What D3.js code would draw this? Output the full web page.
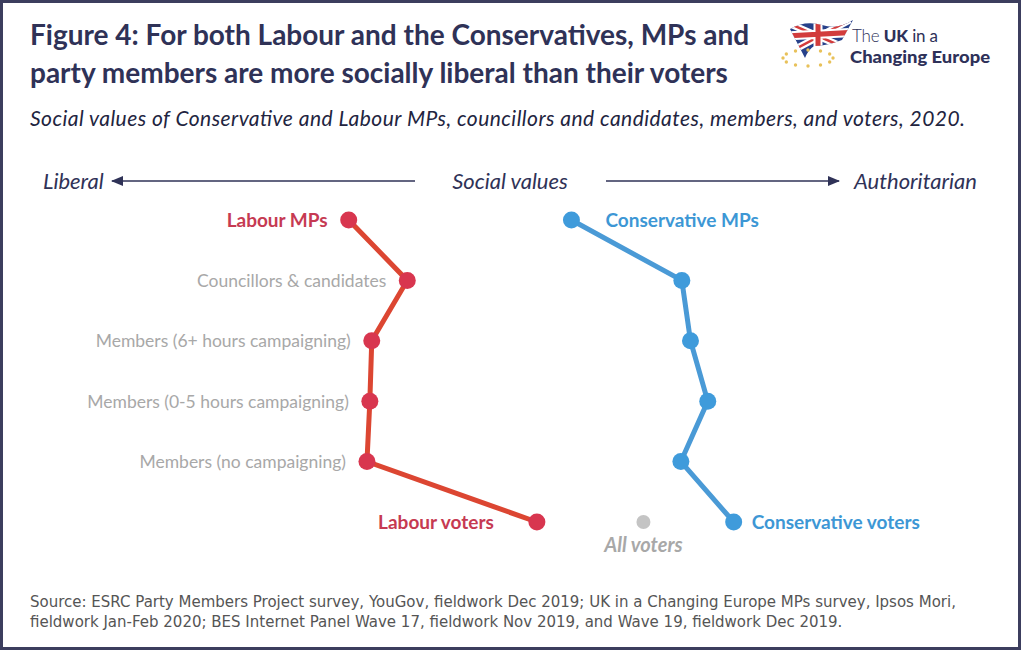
<!DOCTYPE html>
<html>
<head>
<meta charset="utf-8">
<script src="https://cdn.jsdelivr.net/npm/d3@7"></script>
<style>
  body { margin: 0; background: #fff; }
  svg { display: block; }
</style>
</head>
<body>
<div id="chart"></div>
<script>
// Categories down the chart (top to bottom)
var categories = ["MPs", "Councillors & candidates", "Members (6+ hours campaigning)",
  "Members (0-5 hours campaigning)", "Members (no campaigning)", "Voters"];

// Social values position (0 = liberal, 100 = authoritarian)
var labourValues = [33.2, 39.3, 35.6, 35.4, 35.1, 52.8];
var conservativeValues = [56.4, 67.9, 68.8, 70.6, 67.8, 73.3];
var allVotersValue = 63.9;

// Labels next to the points
var labourLabels = ["Labour MPs", "Councillors & candidates", "Members (6+ hours campaigning)",
  "Members (0-5 hours campaigning)", "Members (no campaigning)", "Labour voters"];
var conservativeLabels = ["Conservative MPs", "", "", "", "", "Conservative voters"];

var svgWidth = 1024;
var svgHeight = 652;

var navy = "#2f3257";
var labourDot = "#d8364f";
var labourLine = "#dc4632";
var labourText = "#c63a52";
var conDot = "#3f9bdb";
var conLine = "#4a9ad6";
var conText = "#3d97d5";
var grey = "#a8a8a8";

var svg = d3.select("#chart")
  .append("svg")
  .attr("width", svgWidth)
  .attr("height", svgHeight);

// Frame
svg.append("rect")
  .attr("x", 1.5).attr("y", 1.5)
  .attr("width", 1018).attr("height", 647)
  .attr("fill", "#fff")
  .attr("stroke", "#3c3e5e")
  .attr("stroke-width", 3);

// Title + subtitle
var titleFont = "Lato, 'Open Sans', sans-serif";
svg.append("text")
  .attr("x", 30).attr("y", 45)
  .attr("font-family", titleFont).attr("font-weight", "bold")
  .attr("font-size", 28).attr("fill", navy)
  .text("Figure 4: For both Labour and the Conservatives, MPs and");
svg.append("text")
  .attr("x", 30).attr("y", 83)
  .attr("font-family", titleFont).attr("font-weight", "bold")
  .attr("font-size", 28).attr("fill", navy)
  .text("party members are more socially liberal than their voters");
svg.append("text")
  .attr("x", 30).attr("y", 126)
  .attr("font-family", titleFont).attr("font-style", "italic")
  .attr("font-size", 21).attr("fill", "#222440")
  .attr("textLength", 935).attr("lengthAdjust", "spacing")
  .text("Social values of Conservative and Labour MPs, councillors and candidates, members, and voters, 2020.");

// Logo
var logo = svg.append("g").attr("class", "logo");
var defs = svg.append("defs");
defs.append("clipPath").attr("id", "flagClip")
  .append("path")
  .attr("d", "M790,29 Q805,20 822,25 Q838,30 853,20 L842,40 Q826,46 814,46 Q808,50 805,58 Z");
defs.append("marker")
  .attr("id", "arrowHead")
  .attr("viewBox", "0 0 12 10")
  .attr("refX", 11).attr("refY", 5)
  .attr("markerWidth", 12).attr("markerHeight", 10)
  .attr("markerUnits", "userSpaceOnUse")
  .attr("orient", "auto")
  .append("path")
  .attr("d", "M0,0 L12,5 L0,10 Z")
  .attr("fill", navy);

var flag = logo.append("g").attr("clip-path", "url(#flagClip)");
flag.append("rect").attr("x", 785).attr("y", 15).attr("width", 75).attr("height", 50).attr("fill", "#27418a");
flag.append("path").attr("d", "M790,24 L850,50 M790,52 L850,20").attr("stroke", "#fff").attr("stroke-width", 7);
flag.append("path").attr("d", "M790,24 L850,50 M790,52 L850,20").attr("stroke", "#d23c3c").attr("stroke-width", 2.5);
flag.append("path").attr("d", "M818,15 L818,65 M785,36 L860,32").attr("stroke", "#fff").attr("stroke-width", 9);
flag.append("path").attr("d", "M818,15 L818,65 M785,36 L860,32").attr("stroke", "#d23c3c").attr("stroke-width", 5);

var starAngles = d3.range(12).map(function(i) { return i * Math.PI / 6; });
logo.selectAll(".star")
  .data(starAngles)
  .enter()
  .append("circle")
  .attr("class", "star")
  .attr("cx", function(a) { return 808 + 25 * Math.cos(a); })
  .attr("cy", function(a) { return 58 + 8 * Math.sin(a); })
  .attr("r", 1.7)
  .attr("fill", "#e8c15a");

// "The UK in a" / "Changing Europe"
var logoText1 = logo.append("text")
  .attr("x", 852).attr("y", 42)
  .attr("font-family", "Lato, sans-serif")
  .attr("font-size", 17).attr("fill", "#2e3159")
  .attr("textLength", 86).attr("lengthAdjust", "spacing");
logoText1.append("tspan").attr("font-weight", 300).text("The ");
logoText1.append("tspan").attr("font-weight", 900).text("UK");
logoText1.append("tspan").attr("font-weight", 400).text(" in a");
logo.append("text")
  .attr("x", 850).attr("y", 63)
  .attr("font-family", "Lato, sans-serif")
  .attr("font-weight", 900)
  .attr("font-size", 17.5).attr("fill", "#2e3159")
  .attr("textLength", 140).attr("lengthAdjust", "spacingAndGlyphs")
  .text("Changing Europe");

// Scales
var xScale = d3.scaleLinear()
  .domain([0, 100])
  .range([30, 990]);

var yScale = d3.scalePoint()
  .domain(categories)
  .range([220, 522]);

// Axis direction header
var axisY = 181;
var headerFont = "Lato, 'Open Sans', sans-serif";
svg.append("text")
  .attr("x", 43).attr("y", axisY + 8)
  .attr("font-family", headerFont).attr("font-style", "italic")
  .attr("font-size", 22).attr("fill", navy)
  .text("Liberal");
svg.append("text")
  .attr("x", 510).attr("y", axisY + 8)
  .attr("text-anchor", "middle")
  .attr("font-family", headerFont).attr("font-style", "italic")
  .attr("font-size", 22).attr("fill", navy)
  .text("Social values");
svg.append("text")
  .attr("x", 977).attr("y", axisY + 8)
  .attr("text-anchor", "end")
  .attr("font-family", headerFont).attr("font-style", "italic")
  .attr("font-size", 22).attr("fill", navy)
  .text("Authoritarian");
svg.append("line")
  .attr("x1", 415).attr("y1", axisY).attr("x2", 112).attr("y2", axisY)
  .attr("stroke", navy).attr("stroke-width", 1.5)
  .attr("marker-end", "url(#arrowHead)");
svg.append("line")
  .attr("x1", 606).attr("y1", axisY).attr("x2", 839).attr("y2", axisY)
  .attr("stroke", navy).attr("stroke-width", 1.5)
  .attr("marker-end", "url(#arrowHead)");

// Series
var labourData = categories.map(function(c, i) {
  return { cat: c, value: labourValues[i], label: labourLabels[i] };
});
var conData = categories.map(function(c, i) {
  return { cat: c, value: conservativeValues[i], label: conservativeLabels[i] };
});

var line = d3.line()
  .x(function(d) { return xScale(d.value); })
  .y(function(d) { return yScale(d.cat); });

var chartGroup = svg.append("g");

chartGroup.append("path")
  .datum(labourData)
  .attr("d", line)
  .attr("fill", "none")
  .attr("stroke", labourLine)
  .attr("stroke-width", 5);

chartGroup.append("path")
  .datum(conData)
  .attr("d", line)
  .attr("fill", "none")
  .attr("stroke", conLine)
  .attr("stroke-width", 5);

chartGroup.selectAll(".labDot")
  .data(labourData)
  .enter()
  .append("circle")
  .attr("class", "labDot")
  .attr("cx", function(d) { return xScale(d.value); })
  .attr("cy", function(d) { return yScale(d.cat); })
  .attr("r", 8.5)
  .attr("fill", labourDot);

chartGroup.selectAll(".conDot")
  .data(conData)
  .enter()
  .append("circle")
  .attr("class", "conDot")
  .attr("cx", function(d) { return xScale(d.value); })
  .attr("cy", function(d) { return yScale(d.cat); })
  .attr("r", 8.5)
  .attr("fill", conDot);

// All voters
chartGroup.append("circle")
  .attr("cx", xScale(allVotersValue))
  .attr("cy", yScale("Voters"))
  .attr("r", 7)
  .attr("fill", "#c4c4c4");
chartGroup.append("text")
  .attr("x", xScale(allVotersValue))
  .attr("y", yScale("Voters") + 30)
  .attr("text-anchor", "middle")
  .attr("font-family", headerFont).attr("font-style", "italic").attr("font-weight", "bold")
  .attr("font-size", 20).attr("fill", grey)
  .text("All voters");

// Labour labels (to the left of points)
var labelFont = "Lato, 'Open Sans', sans-serif";
function isKey(i) { return i === 0 || i === 5; }

chartGroup.selectAll(".labLabel")
  .data(labourData)
  .enter()
  .append("text")
  .attr("class", "labLabel")
  .attr("x", function(d, i) { return xScale(d.value) - (i === 5 ? 43 : 21); })
  .attr("y", function(d) { return yScale(d.cat) + 6.5; })
  .attr("text-anchor", "end")
  .attr("font-family", labelFont)
  .attr("font-size", function(d, i) { return isKey(i) ? 19 : 17.5; })
  .attr("font-weight", function(d, i) { return isKey(i) ? "bold" : "normal"; })
  .attr("fill", function(d, i) { return isKey(i) ? labourText : grey; })
  .text(function(d) { return d.label; });

// Conservative labels (to the right of points)
chartGroup.selectAll(".conLabel")
  .data(conData.filter(function(d) { return d.label !== ""; }))
  .enter()
  .append("text")
  .attr("class", "conLabel")
  .attr("x", function(d) { return xScale(d.value) + (d.cat === "MPs" ? 34 : 18); })
  .attr("y", function(d) { return yScale(d.cat) + 6.5; })
  .attr("font-family", labelFont)
  .attr("font-size", 19)
  .attr("font-weight", "bold")
  .attr("fill", conText)
  .text(function(d) { return d.label; });

// Source
var sourceFont = "'DejaVu Sans', Verdana, sans-serif";
svg.append("text")
  .attr("x", 30).attr("y", 607)
  .attr("font-family", sourceFont)
  .attr("font-size", 15).attr("fill", "#555")
  .text("Source: ESRC Party Members Project survey, YouGov, fieldwork Dec 2019; UK in a Changing Europe MPs survey, Ipsos Mori,");
svg.append("text")
  .attr("x", 30).attr("y", 627)
  .attr("font-family", sourceFont)
  .attr("font-size", 15).attr("fill", "#555")
  .text("fieldwork Jan-Feb 2020; BES Internet Panel Wave 17, fieldwork Nov 2019, and Wave 19, fieldwork Dec 2019.");
</script>
</body>
</html>
